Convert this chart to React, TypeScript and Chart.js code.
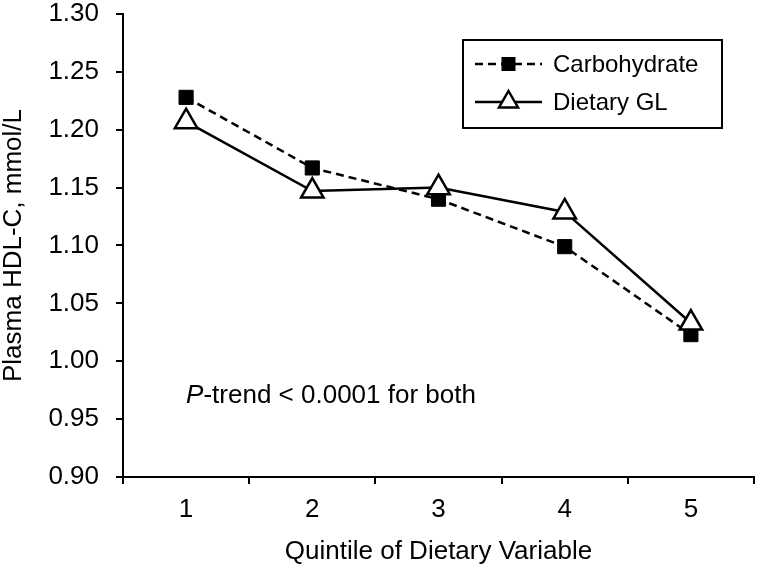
import React, { useEffect, useRef } from "react";
import { Chart, registerables } from "chart.js";

Chart.register(...registerables);

const categories = ["1", "2", "3", "4", "5"];
const carbohydrate = [1.228, 1.167, 1.140, 1.099, 1.023];
const dietaryGL = [1.207, 1.147, 1.150, 1.129, 1.033];
const yMin = 0.9;
const yMax = 1.3;
const yStep = 0.05;
const annotationValue = 0.97;
const seriesNames = ["Carbohydrate", "Dietary GL"];
const xTitle = "Quintile of Dietary Variable";
const yTitle = "Plasma HDL-C, mmol/L";

const FONT = "'Liberation Sans', Arial, Helvetica, sans-serif";
const DASH = [8, 5];

const legendPlugin = {
  id: "boxLegend",
  afterDraw(chart: any) {
    const { ctx, chartArea } = chart;
    const boxW = 259;
    const boxH = 88;
    const bx = chartArea.right - 32 - boxW;
    const by = chartArea.top + 26;
    ctx.save();
    ctx.strokeStyle = "#000";
    ctx.lineWidth = 2;
    ctx.strokeRect(bx, by, boxW, boxH);
    const rows = [
      { name: seriesNames[0], dash: DASH, marker: "rect", y: by + 24 },
      { name: seriesNames[1], dash: [], marker: "tri", y: by + 62 },
    ];
    for (const r of rows) {
      const lx0 = bx + 12;
      const lx1 = bx + 79;
      ctx.beginPath();
      ctx.setLineDash(r.dash);
      ctx.lineWidth = 2.5;
      ctx.moveTo(lx0, r.y);
      ctx.lineTo(lx1, r.y);
      ctx.stroke();
      ctx.setLineDash([]);
      const mx = (lx0 + lx1) / 2;
      if (r.marker === "rect") {
        ctx.fillStyle = "#000";
        ctx.fillRect(mx - 7, r.y - 7, 14, 14);
      } else {
        const rr = 11;
        ctx.beginPath();
        ctx.moveTo(mx, r.y - rr);
        ctx.lineTo(mx + rr * 0.866, r.y + rr / 2);
        ctx.lineTo(mx - rr * 0.866, r.y + rr / 2);
        ctx.closePath();
        ctx.fillStyle = "#fff";
        ctx.fill();
        ctx.lineWidth = 2.5;
        ctx.stroke();
      }
      ctx.fillStyle = "#000";
      ctx.font = `24px ${FONT}`;
      ctx.textAlign = "left";
      ctx.textBaseline = "middle";
      ctx.fillText(r.name, bx + 90, r.y + 1);
    }
    ctx.restore();
  },
};

const annotationPlugin = {
  id: "pTrend",
  afterDraw(chart: any) {
    const { ctx } = chart;
    const xs = chart.scales.x;
    const ys = chart.scales.y;
    const x = xs.getPixelForValue(0);
    const y = ys.getPixelForValue(annotationValue);
    ctx.save();
    ctx.fillStyle = "#000";
    ctx.textAlign = "left";
    ctx.textBaseline = "middle";
    ctx.font = `italic 26px ${FONT}`;
    ctx.fillText("P", x, y);
    const w = ctx.measureText("P").width;
    ctx.font = `26px ${FONT}`;
    ctx.fillText("-trend < 0.0001 for both", x + w, y);
    ctx.restore();
  },
};

export default function App() {
  const ref = useRef<HTMLCanvasElement | null>(null);
  useEffect(() => {
    document.body.style.margin = "0";
    const canvas = ref.current!;
    const chart = new Chart(canvas, {
      type: "line",
      data: {
        labels: categories,
        datasets: [
          {
            label: seriesNames[0],
            data: carbohydrate,
            borderColor: "#000",
            borderWidth: 2.5,
            borderDash: DASH,
            pointStyle: "rect",
            pointRadius: 10,
            pointBackgroundColor: "#000",
            pointBorderColor: "#000",
            pointBorderWidth: 1,
            tension: 0,
            order: 1,
            clip: false,
          },
          {
            label: seriesNames[1],
            data: dietaryGL,
            borderColor: "#000",
            borderWidth: 2.5,
            pointStyle: "triangle",
            pointRadius: 13,
            pointBackgroundColor: "#fff",
            pointBorderColor: "#000",
            pointBorderWidth: 2.5,
            tension: 0,
            order: 0,
            clip: false,
          },
        ],
      },
      options: {
        animation: false,
        responsive: false,
        maintainAspectRatio: false,
        layout: { autoPadding: false, padding: { top: 14, right: 5, left: 0, bottom: 0 } },
        plugins: { legend: { display: false }, tooltip: { enabled: false } },
        scales: {
          x: {
            type: "category",
            offset: true,
            grid: { offset: true, drawOnChartArea: false, drawTicks: true, tickLength: 7, color: "#000", lineWidth: 2 },
            border: { display: true, color: "#000", width: 2 },
            ticks: { color: "#000", padding: 10, font: { family: FONT, size: 26 } },
            title: {
              display: true,
              text: xTitle,
              color: "#000",
              font: { family: FONT, size: 26, lineHeight: 1 },
              padding: { top: 0, bottom: 1 },
            },
            afterFit(scale: any) {
              scale.height = 89;
              scale.paddingLeft = 0;
              scale.paddingRight = 0;
            },
          },
          y: {
            min: yMin,
            max: yMax,
            grid: { drawOnChartArea: false, drawTicks: true, tickLength: 7, color: "#000", lineWidth: 2 },
            border: { display: true, color: "#000", width: 2 },
            ticks: {
              stepSize: yStep,
              color: "#000",
              padding: 17,
              font: { family: FONT, size: 26, lineHeight: 1 },
              callback: (v: any) => Number(v).toFixed(2),
            },
            title: {
              display: true,
              text: yTitle,
              color: "#000",
              font: { family: FONT, size: 26, lineHeight: 1 },
              padding: { top: 1, bottom: 0 },
            },
            afterFit(scale: any) {
              scale.width = 123;
              scale.paddingTop = 0;
              scale.paddingBottom = 0;
            },
          },
        },
      },
      plugins: [legendPlugin, annotationPlugin],
    });
    return () => chart.destroy();
  }, []);
  return (
    <div style={{ width: 759, height: 566, background: "#fff" }}>
      <canvas ref={ref} width={759} height={566} style={{ display: "block" }} />
    </div>
  );
}
